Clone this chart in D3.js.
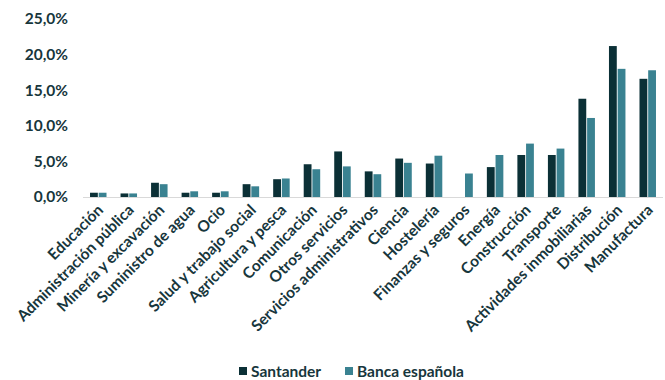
<!DOCTYPE html>
<html>
<head>
<meta charset="utf-8">
<script src="https://cdn.jsdelivr.net/npm/d3@7"></script>
<style>
  body { margin: 0; background: #fff; }
  text { font-family: Lato, "Open Sans", sans-serif; font-weight: bold; fill: #17363c; }
</style>
</head>
<body>
<div id="chart"></div>
<script>
// sectores, ordenados como en el original
const sectores = ["Educación", "Administración pública", "Minería y excavación", "Suministro de agua", "Ocio",
  "Salud y trabajo social", "Agricultura y pesca", "Comunicación", "Otros servicios", "Servicios administrativos",
  "Ciencia", "Hostelería", "Finanzas y seguros", "Energía", "Construcción", "Transporte",
  "Actividades inmobiliarias", "Distribución", "Manufactura"];
const santander = [0.6, 0.5, 2.0, 0.6, 0.6, 1.8, 2.5, 4.6, 6.4, 3.6, 5.4, 4.7, 0, 4.2, 5.9, 5.9, 13.8, 21.2, 16.6];
const bancaEsp = [0.6, 0.5, 1.8, 0.8, 0.8, 1.5, 2.6, 3.9, 4.3, 3.2, 4.8, 5.8, 3.3, 5.9, 7.5, 6.8, 11.1, 18.0, 17.8];
const series = ["Santander", "Banca española"];
const colores = ["#0b3036", "#3a8291"];
const yTicks = [0, 5, 10, 15, 20, 25];

const width = 665, height = 380;
const svg = d3.select("#chart").append("svg")
  .attr("width", width)
  .attr("height", height);

//Scales
let x = d3.scaleBand().domain(sectores).range([83, 663]).paddingInner(0.46).paddingOuter(0.23);
let xs = d3.scaleBand().domain(series).range([0, x.bandwidth()]).paddingInner(0.1);
let y = d3.scaleLinear().domain([0, 25]).range([197, 19]);
let fmt = v => d3.format(".1f")(v).replace(".", ",") + "%";

//y labels, no axis line
svg.append("g")
  .selectAll("text")
  .data(yTicks)
  .enter().append("text")
  .attr("x", 68)
  .attr("y", d => y(d))
  .attr("dy", "0.35em")
  .attr("text-anchor", "end")
  .style("font-size", "15.5px")
  .text(fmt);

//bars
let grupos = svg.append("g")
  .selectAll("g")
  .data(sectores)
  .enter().append("g")
  .attr("transform", d => "translate(" + x(d) + ",0)");

grupos.selectAll("rect")
  .data((d, i) => [santander[i], bancaEsp[i]].map((v, j) => ({ s: series[j], v: v, c: colores[j] })))
  .enter().append("rect")
  .filter(d => d.v > 0)
  .attr("x", d => xs(d.s))
  .attr("width", xs.bandwidth())
  .attr("y", d => y(d.v))
  .attr("height", d => y(0) - y(d.v))
  .style("fill", d => d.c);

//x axis line
svg.append("line")
  .attr("x1", 83).attr("x2", 663)
  .attr("y1", y(0) + 0.5).attr("y2", y(0) + 0.5)
  .style("stroke", "#d9d9d9")
  .style("stroke-width", 1);

//rotated category labels
svg.append("g")
  .selectAll("text")
  .data(sectores)
  .enter().append("text")
  .attr("text-anchor", "end")
  .attr("transform", d => "translate(" + (x(d) + x.bandwidth() / 2 + 6) + ",211) rotate(-45)")
  .style("font-size", "15.5px")
  .text(d => d);

//legend
let leg = svg.append("g")
  .selectAll("g")
  .data(series)
  .enter().append("g")
  .attr("transform", (d, i) => "translate(" + [239, 345][i] + ",372)");
leg.append("rect")
  .attr("x", 0).attr("y", -5)
  .attr("width", 8).attr("height", 8)
  .style("fill", (d, i) => colores[i]);
leg.append("text")
  .attr("x", 12)
  .attr("dy", "0.35em")
  .style("font-size", "15.5px")
  .text(d => d);
</script>
</body>
</html>
